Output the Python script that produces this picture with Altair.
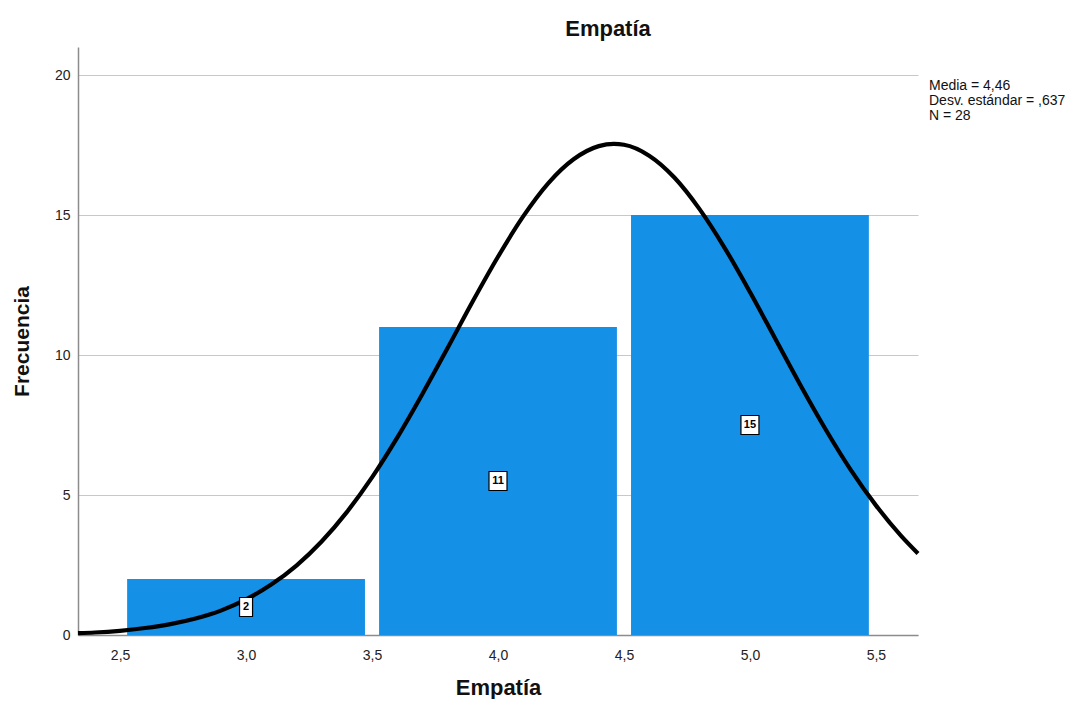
import altair as alt
import pandas as pd

# Histogram bins and counts
bin_start = [2.5, 3.5, 4.5]
bin_end = [3.5, 4.5, 5.5]
counts = [2, 11, 15]
bin_mid = [3.0, 4.0, 5.0]

# Normal curve
curve_x = [2.333, 2.4, 2.5, 2.6, 2.7, 2.8, 2.9, 3.0, 3.1, 3.2, 3.3, 3.4, 3.5, 3.6,
           3.7, 3.8, 3.9, 4.0, 4.1, 4.2, 4.3, 4.4, 4.46, 4.5, 4.6, 4.7, 4.8, 4.9,
           5.0, 5.1, 5.2, 5.3, 5.4, 5.5, 5.6, 5.667]
curve_y = [0.07, 0.09, 0.15, 0.25, 0.39, 0.59, 0.87, 1.27, 1.80, 2.48, 3.34, 4.39,
           5.63, 7.05, 8.61, 10.25, 11.92, 13.51, 14.95, 16.14, 16.99, 17.46, 17.54,
           17.51, 17.12, 16.34, 15.21, 13.82, 12.25, 10.59, 8.93, 7.35, 5.90, 4.63,
           3.54, 2.91]

stats_text = ["Media = 4,46", "Desv. estándar = ,637", "N = 28"]

x_ticks = [2.5, 3.0, 3.5, 4.0, 4.5, 5.0, 5.5]
y_ticks = [0, 5, 10, 15, 20]

bars = pd.DataFrame({"start": bin_start, "end": bin_end, "count": counts, "mid": bin_mid})
curve = pd.DataFrame({"x": curve_x, "y": curve_y})

FONT = "Liberation Sans"
xscale = alt.Scale(domain=[2.333, 5.667], nice=False, zero=False)
yscale = alt.Scale(domain=[0, 21], nice=False)

base = alt.Chart(bars)

bar_layer = base.transform_calculate(
    x0="datum.start + 0.028", x1="datum.end - 0.028"
).mark_rect(color="#1490E6").encode(
    x=alt.X("x0:Q", scale=xscale,
            axis=alt.Axis(values=x_ticks, format=".1f",
                          labelExpr="replace(datum.label, '.', ',')",
                          title="Empatía", grid=False, ticks=False,
                          domainColor="#8c8c8c", domainWidth=1.5,
                          labelFont=FONT, labelFontSize=14, labelColor="#222",
                          labelPadding=13, titleFont=FONT, titleFontSize=22,
                          titleFontWeight="bold", titleColor="#111",
                          titlePadding=15)),
    x2="x1:Q",
    y=alt.Y("count:Q", scale=yscale,
            axis=alt.Axis(values=y_ticks, title="Frecuencia", grid=True,
                          gridColor="#c8c8c8", gridWidth=1.2, ticks=False,
                          domainColor="#8c8c8c", domainWidth=1.5,
                          labelFont=FONT, labelFontSize=14, labelColor="#222",
                          labelPadding=8, titleFont=FONT, titleFontSize=21,
                          titleFontWeight="bold", titleColor="#111",
                          titlePadding=22)),
    y2=alt.datum(0),
)

curve_layer = alt.Chart(curve).mark_line(color="black", strokeWidth=4.2, interpolate="monotone").encode(
    x=alt.X("x:Q", scale=xscale),
    y=alt.Y("y:Q", scale=yscale),
)

box_small = base.transform_filter("datum.count < 10").transform_calculate(
    half="datum.count / 2").mark_rect(
    width=13, height=19, fill="white", stroke="black", strokeWidth=1.2
).encode(x=alt.X("mid:Q", scale=xscale), y=alt.Y("half:Q", scale=yscale))

box_big = base.transform_filter("datum.count >= 10").transform_calculate(
    half="datum.count / 2").mark_rect(
    width=18, height=19, fill="white", stroke="black", strokeWidth=1.2
).encode(x=alt.X("mid:Q", scale=xscale), y=alt.Y("half:Q", scale=yscale))

label_layer = base.transform_calculate(half="datum.count / 2").mark_text(
    font=FONT, fontSize=11, fontWeight="bold", color="black", baseline="middle"
).encode(x=alt.X("mid:Q", scale=xscale), y=alt.Y("half:Q", scale=yscale),
         text="count:Q")

stats_layer = alt.Chart(pd.DataFrame({"t": [0]})).mark_text(
    text=stats_text, font=FONT, fontSize=14, lineHeight=15, align="left",
    baseline="alphabetic", color="#111"
).encode(x=alt.value(851), y=alt.value(43))

chart = alt.layer(bar_layer, curve_layer, box_small, box_big, label_layer, stats_layer).properties(
    width=840, height=588,
    title=alt.TitleParams("Empatía", font=FONT, fontSize=22, fontWeight="bold",
                          color="#111", anchor="middle", frame="group", dx=110,
                          offset=6),
    autosize=alt.AutoSizeParams(type="none"),
    padding={"left": 70, "top": 39, "right": 162, "bottom": 64},
).configure(background="white").configure_view(stroke=None)

chart.save("out.html", embed_options={"renderer": "svg", "actions": False})
